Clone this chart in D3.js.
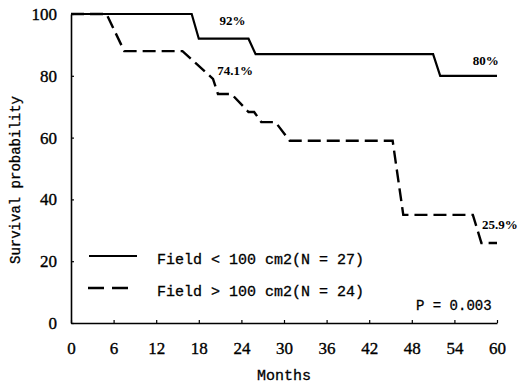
<!DOCTYPE html>
<html>
<head>
<meta charset="utf-8">
<script src="https://cdn.jsdelivr.net/npm/d3@7"></script>
<style>
  html, body { margin: 0; padding: 0; background: #fff; }
  svg { display: block; }
</style>
</head>
<body>
<svg id="chart" width="518" height="384"></svg>
<script>
// ---- data ----
const xTicks = [0, 6, 12, 18, 24, 30, 36, 42, 48, 54, 60];
const yTicks = [0, 20, 40, 60, 80, 100];
const solidMonths = [0, 17, 18, 25, 26, 51, 52, 60];
const solidSurv   = [100, 100, 92, 92, 87, 87, 80, 80];
const dashMonths = [0, 5, 7.5, 15.7, 20, 20.7, 22.6, 25, 25.8, 26.8, 28.8, 30.8, 45.3, 46.8, 56.6, 57.8, 60];
const dashSurv   = [100, 100, 88, 88, 79, 74.1, 74.1, 68.3, 68.3, 65, 65, 59, 59, 35, 35, 25.9, 25.9];
const annotations = [
  { text: "92%",   m: 20.9, s: 96.3 },
  { text: "74.1%", m: 20.6, s: 80.3 },
  { text: "80%",   m: 56.6, s: 83.4 },
  { text: "25.9%", m: 57.9, s: 30.5 }
];
const legendLabels = ["Field < 100 cm2(N = 27)", "Field > 100 cm2(N = 24)"];
const pText = "P = 0.003";
const xTitle = "Months";
const yTitle = "Survival probability";

// ---- layout ----
const svg = d3.select("#chart");
const x = d3.scaleLinear().domain([0, 60]).range([71, 497]);
const y = d3.scaleLinear().domain([0, 100]).range([323, 14]);

const serif = "'Liberation Serif', 'Times New Roman', serif";
const mono = "'Liberation Mono', 'Courier New', monospace";

// axes
const xAxis = d3.axisBottom(x).tickValues(xTicks).tickSizeInner(-3).tickSizeOuter(0).tickPadding(19);
const yAxis = d3.axisLeft(y).tickValues(yTicks).tickSizeInner(-3).tickSizeOuter(0).tickPadding(14);

const gx = svg.append("g").attr("transform", "translate(0,323)").call(xAxis);
const gy = svg.append("g").attr("transform", "translate(71,0)").call(yAxis);
[gx, gy].forEach(g => {
  g.select(".domain").attr("stroke", "#000").attr("stroke-width", 1.6);
  g.selectAll(".tick line").attr("stroke", "#000").attr("stroke-width", 1.2);
  g.selectAll(".tick text").attr("fill", "#000").style("font-family", serif)
    .style("font-size", "17px").attr("stroke", "#000").attr("stroke-width", 0.35);
});

// axis titles
svg.append("text").attr("x", 284).attr("y", 380)
  .attr("text-anchor", "middle").style("font-family", mono).style("font-size", "15px")
  .attr("stroke", "#000").attr("stroke-width", 0.3)
  .text(xTitle);
svg.append("text").attr("transform", "translate(20,180) rotate(-90)")
  .attr("text-anchor", "middle").style("font-family", mono).style("font-size", "14px")
  .attr("stroke", "#000").attr("stroke-width", 0.3)
  .text(yTitle);

// curves
const line = d3.line().x(d => x(d[0])).y(d => y(d[1]));
const solidData = solidMonths.map((m, i) => [m, solidSurv[i]]);
const dashData = dashMonths.map((m, i) => [m, dashSurv[i]]);

svg.append("path").datum(solidData).attr("d", line)
  .attr("fill", "none").attr("stroke", "#000").attr("stroke-width", 2.2);
svg.append("path").datum(dashData).attr("d", line)
  .attr("fill", "none").attr("stroke", "#000").attr("stroke-width", 2.4)
  .attr("stroke-dasharray", "13,6");

// annotations
svg.selectAll("text.ann").data(annotations).enter().append("text")
  .attr("class", "ann")
  .attr("x", d => x(d.m)).attr("y", d => y(d.s))
  .style("font-family", serif).style("font-size", "13px").style("font-weight", "bold")
  .text(d => d.text);

// legend
const legY = [256, 288];
svg.append("line").attr("x1", 89).attr("x2", 137).attr("y1", legY[0]).attr("y2", legY[0])
  .attr("stroke", "#000").attr("stroke-width", 2.2);
svg.append("line").attr("x1", 88).attr("x2", 130).attr("y1", legY[1]).attr("y2", legY[1])
  .attr("stroke", "#000").attr("stroke-width", 2.4).attr("stroke-dasharray", "16,8");
legendLabels.forEach((t, i) => {
  svg.append("text").attr("x", 157).attr("y", legY[i] + 8)
    .style("font-family", mono).style("font-size", "15px")
    .attr("stroke", "#000").attr("stroke-width", 0.3).text(t);
});

svg.append("text").attr("x", 416).attr("y", 310)
  .style("font-family", mono).style("font-size", "14px")
  .attr("stroke", "#000").attr("stroke-width", 0.3).text(pText);
</script>
</body>
</html>
